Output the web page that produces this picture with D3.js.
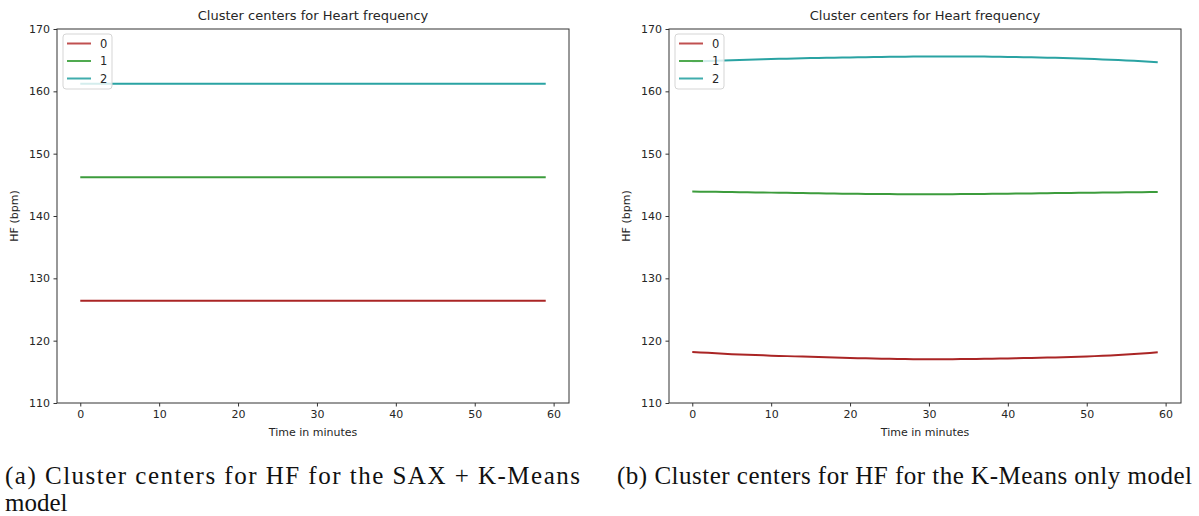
<!DOCTYPE html>
<html><head><meta charset="utf-8">
<script src="https://cdn.jsdelivr.net/npm/d3@7"></script>
<style>body{margin:0;background:#fff;} svg{display:block;}</style>
</head><body>
<svg id="c" width="1199" height="516"></svg>
<script>
// ---- data ----
const minutes = [0,1,2,3,4,5,6,7,8,9,10,11,12,13,14,15,16,17,18,19,20,21,22,23,24,25,26,27,28,29,30,31,32,33,34,35,36,37,38,39,40,41,42,43,44,45,46,47,48,49,50,51,52,53,54,55,56,57,58,59];
const clusterNames = ["0","1","2"];
const xTicks = [0,10,20,30,40,50,60];
const yTicks = [110,120,130,140,150,160,170];

// (a) SAX + K-Means cluster centers (flat)
const saxC0 = [126.4,126.4,126.4,126.4,126.4,126.4,126.4,126.4,126.4,126.4,126.4,126.4,126.4,126.4,126.4,126.4,126.4,126.4,126.4,126.4,126.4,126.4,126.4,126.4,126.4,126.4,126.4,126.4,126.4,126.4,126.4,126.4,126.4,126.4,126.4,126.4,126.4,126.4,126.4,126.4,126.4,126.4,126.4,126.4,126.4,126.4,126.4,126.4,126.4,126.4,126.4,126.4,126.4,126.4,126.4,126.4,126.4,126.4,126.4,126.4];
const saxC1 = [146.2,146.2,146.2,146.2,146.2,146.2,146.2,146.2,146.2,146.2,146.2,146.2,146.2,146.2,146.2,146.2,146.2,146.2,146.2,146.2,146.2,146.2,146.2,146.2,146.2,146.2,146.2,146.2,146.2,146.2,146.2,146.2,146.2,146.2,146.2,146.2,146.2,146.2,146.2,146.2,146.2,146.2,146.2,146.2,146.2,146.2,146.2,146.2,146.2,146.2,146.2,146.2,146.2,146.2,146.2,146.2,146.2,146.2,146.2,146.2];
const saxC2 = [161.2,161.2,161.2,161.2,161.2,161.2,161.2,161.2,161.2,161.2,161.2,161.2,161.2,161.2,161.2,161.2,161.2,161.2,161.2,161.2,161.2,161.2,161.2,161.2,161.2,161.2,161.2,161.2,161.2,161.2,161.2,161.2,161.2,161.2,161.2,161.2,161.2,161.2,161.2,161.2,161.2,161.2,161.2,161.2,161.2,161.2,161.2,161.2,161.2,161.2,161.2,161.2,161.2,161.2,161.2,161.2,161.2,161.2,161.2,161.2];

// (b) K-Means only cluster centers
const kmC0 = [118.20,118.12,118.05,117.97,117.90,117.84,117.79,117.74,117.69,117.65,117.60,117.56,117.52,117.48,117.44,117.40,117.36,117.32,117.28,117.25,117.22,117.19,117.16,117.13,117.10,117.08,117.06,117.04,117.03,117.02,117.02,117.02,117.02,117.03,117.04,117.05,117.06,117.08,117.10,117.12,117.15,117.17,117.20,117.22,117.25,117.28,117.31,117.34,117.38,117.42,117.47,117.52,117.57,117.63,117.70,117.77,117.85,117.94,118.04,118.15];
const kmC1 = [143.92,143.91,143.90,143.88,143.87,143.85,143.83,143.81,143.79,143.77,143.75,143.73,143.71,143.69,143.67,143.65,143.63,143.61,143.59,143.58,143.56,143.55,143.54,143.53,143.52,143.51,143.50,143.50,143.49,143.49,143.49,143.49,143.50,143.50,143.51,143.52,143.53,143.54,143.55,143.56,143.58,143.59,143.61,143.62,143.64,143.65,143.67,143.68,143.70,143.71,143.73,143.74,143.76,143.77,143.79,143.80,143.82,143.83,143.85,143.86];
const kmC2 = [164.80,164.84,164.88,164.92,164.96,165.00,165.04,165.08,165.11,165.15,165.18,165.21,165.24,165.27,165.30,165.33,165.35,165.38,165.40,165.42,165.44,165.46,165.48,165.50,165.52,165.53,165.55,165.56,165.57,165.58,165.59,165.60,165.60,165.60,165.60,165.59,165.58,165.57,165.56,165.54,165.52,165.50,165.48,165.46,165.43,165.40,165.37,165.34,165.30,165.26,165.22,165.17,165.12,165.07,165.02,164.96,164.90,164.83,164.76,164.68];

const colors = ["#aa2525","#3c9c3c","#2aa3a3"];
const legendColors = ["#c05050","#50aa50","#40adad"];

const svg = d3.select("#c");
const FONT = "DejaVu Sans, sans-serif";
const TXT = "#262626";

function panel(x0, x1, series, title) {
  const y0 = 29, y1 = 403;
  const x = d3.scaleLinear().domain([-2.95, 61.95]).range([x0, x1]);
  const y = d3.scaleLinear().domain([110, 170]).range([y1, y0]);
  const g = svg.append("g");

  const line = d3.line().x((d, i) => x(minutes[i])).y(d => y(d));
  series.forEach((s, k) => {
    g.append("path").datum(s).attr("d", line)
      .attr("fill", "none").attr("stroke", colors[k]).attr("stroke-width", 2)
      .attr("stroke-linejoin", "round");
  });

  const xa = g.append("g").attr("transform", `translate(0,${y1})`)
    .call(d3.axisBottom(x).tickValues(xTicks).tickSize(3.5).tickPadding(3.5).tickFormat(d3.format("d")));
  const ya = g.append("g").attr("transform", `translate(${x0},0)`)
    .call(d3.axisLeft(y).tickValues(yTicks).tickSize(3.5).tickPadding(3.5).tickFormat(d3.format("d")));
  [xa, ya].forEach(a => {
    a.select(".domain").remove();
    a.selectAll("line").attr("stroke", "#333");
    a.selectAll("text").attr("font-family", FONT).attr("font-size", 11).attr("fill", TXT);
  });

  g.append("rect").attr("x", x0).attr("y", y0).attr("width", x1 - x0).attr("height", y1 - y0)
    .attr("fill", "none").attr("stroke", "#333").attr("stroke-width", 1);

  g.append("text").attr("x", (x0 + x1) / 2).attr("y", 20).attr("text-anchor", "middle")
    .attr("font-family", FONT).attr("font-size", 13).attr("fill", TXT).text(title);
  g.append("text").attr("x", (x0 + x1) / 2).attr("y", 436).attr("text-anchor", "middle")
    .attr("font-family", FONT).attr("font-size", 11).attr("fill", TXT).text("Time in minutes");
  g.append("text").attr("transform", `translate(${x0 - 39},${(y0 + y1) / 2}) rotate(-90)`)
    .attr("text-anchor", "middle").attr("font-family", FONT).attr("font-size", 11).attr("fill", TXT)
    .text("HF (bpm)");

  // legend
  const lg = g.append("g").attr("transform", `translate(${x0 + 6},${y0 + 5})`);
  lg.append("rect").attr("width", 49).attr("height", 55).attr("rx", 3)
    .attr("fill", "rgba(255,255,255,0.8)").attr("stroke", "#d5d5d5");
  clusterNames.forEach((n, k) => {
    const yy = 9.5 + k * 17.5;
    lg.append("line").attr("x1", 4).attr("x2", 28).attr("y1", yy).attr("y2", yy)
      .attr("stroke", legendColors[k]).attr("stroke-width", 2);
    lg.append("text").attr("x", 37).attr("y", yy + 4).attr("font-family", FONT)
      .attr("font-size", 11.5).attr("fill", TXT).text(n);
  });
}

panel(57, 569, [saxC0, saxC1, saxC2], "Cluster centers for Heart frequency");
panel(669, 1181, [kmC0, kmC1, kmC2], "Cluster centers for Heart frequency");

// captions
const SERIF = "Liberation Serif, DejaVu Serif, serif";
svg.append("text").attr("x", 5).attr("y", 484).attr("font-family", SERIF).attr("font-size", 25)
  .attr("fill", "#111").attr("textLength", 575).attr("lengthAdjust", "spacing")
  .text("(a) Cluster centers for HF for the SAX + K-Means");
svg.append("text").attr("x", 5).attr("y", 511).attr("font-family", SERIF).attr("font-size", 25)
  .attr("fill", "#111").text("model");
svg.append("text").attr("x", 617).attr("y", 484).attr("font-family", SERIF).attr("font-size", 25)
  .attr("fill", "#111").attr("textLength", 575).attr("lengthAdjust", "spacing")
  .text("(b) Cluster centers for HF for the K-Means only model");
</script>
</body></html>
